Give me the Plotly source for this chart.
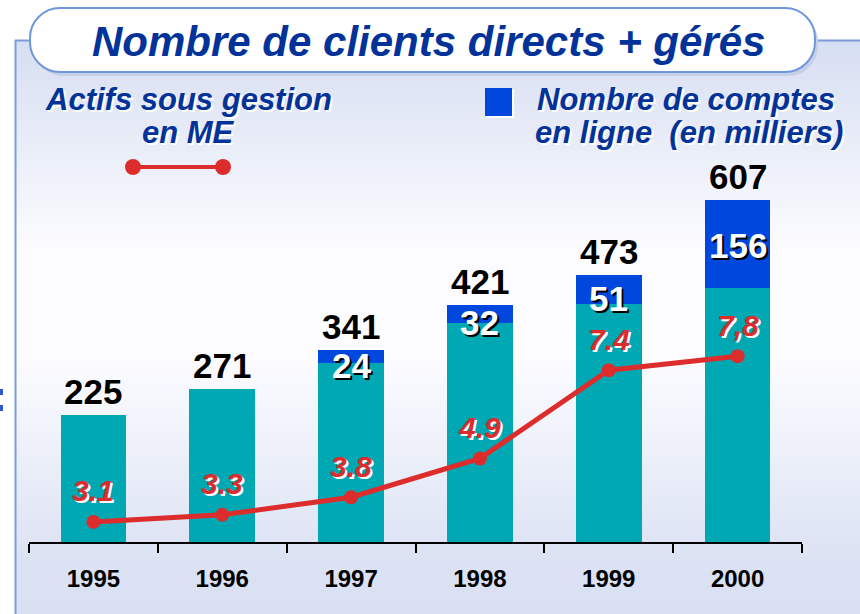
import plotly.graph_objects as go

# ---------------- data ----------------
years = ["1995", "1996", "1997", "1998", "1999", "2000"]
totals = [225, 271, 341, 421, 473, 607]            # nombre de clients (total)
online = [0, 0, 24, 32, 51, 156]                   # comptes en ligne (milliers)
base = [t - o for t, o in zip(totals, online)]     # clients hors ligne
assets = [3.1, 3.3, 3.8, 4.9, 7.4, 7.8]            # actifs sous gestion (ME)
asset_labels = ["3.1", "3.3", "3.8", "4.9", "7.4", "7,8"]

# ---------------- geometry helpers ----------------
W, H = 860, 614
L, R, T, B = 29, 802, 170, 542


def px(x):
    return (x - L) / (R - L)


def py(y):
    return (B - y) / (B - T)


TEAL = "#00A8B4"
BLUE = "#0047DE"
RED = "#DC2C2C"
NAVY = "#033399"
FONT = "Liberation Sans, Arial, sans-serif"

fig = go.Figure()

fig.add_trace(go.Bar(x=years, y=base, marker=dict(color=TEAL, line=dict(width=0)),
                     hoverinfo="skip", showlegend=False))
fig.add_trace(go.Bar(x=years, y=online, marker=dict(color=BLUE, line=dict(width=0)),
                     hoverinfo="skip", showlegend=False))
fig.add_trace(go.Scatter(x=years, y=assets, yaxis="y2", mode="lines+markers",
                         line=dict(color=RED, width=5),
                         marker=dict(color=RED, size=14),
                         hoverinfo="skip", showlegend=False))

shapes = []

# background gradient (panel)
stops = [(40, (214, 222, 241)), (250, (252, 252, 255)), (360, (252, 252, 255)),
         (560, (219, 226, 243)), (620, (217, 224, 242))]


def col_at(y):
    for (y0, c0), (y1, c1) in zip(stops[:-1], stops[1:]):
        if y0 <= y <= y1:
            t = (y - y0) / (y1 - y0)
            return "rgb(%d,%d,%d)" % tuple(round(a + (b - a) * t) for a, b in zip(c0, c1))
    return "rgb(%d,%d,%d)" % stops[-1][1]


step = 5
y = 40
while y < 620:
    shapes.append(dict(type="rect", xref="paper", yref="paper", layer="below",
                       x0=px(15), x1=px(W + 5), y0=py(y), y1=py(y + step + 1),
                       fillcolor=col_at(y + step / 2), line=dict(width=0)))
    y += step

# panel border
shapes.append(dict(type="path", xref="paper", yref="paper", layer="below",
                   path="M %f,%f L %f,%f L %f,%f" % (px(15.5), py(620), px(15.5), py(40.5), px(W + 5), py(40.5)),
                   line=dict(color="#7B9BDC", width=2)))


def pill(x0, y0, x1, y1, r):
    k = 0.5523 * r
    pts = [
        ("M", [(x0 + r, y0)]),
        ("L", [(x1 - r, y0)]),
        ("C", [(x1 - r + k, y0), (x1, y0 + r - k), (x1, y0 + r)]),
        ("L", [(x1, y1 - r)]),
        ("C", [(x1, y1 - r + k), (x1 - r + k, y1), (x1 - r, y1)]),
        ("L", [(x0 + r, y1)]),
        ("C", [(x0 + r - k, y1), (x0, y1 - r + k), (x0, y1 - r)]),
        ("L", [(x0, y0 + r)]),
        ("C", [(x0, y0 + r - k), (x0 + r - k, y0), (x0 + r, y0)]),
    ]
    s = ""
    for cmd, ps in pts:
        s += cmd + " " + " ".join("%f,%f" % (px(a), py(b)) for a, b in ps) + " "
    return s + "Z"


# title box shadow and box
shapes.append(dict(type="path", xref="paper", yref="paper", layer="below",
                   path=pill(34, 12, 818, 76, 30), fillcolor="#C5CFEA", line=dict(width=0)))
shapes.append(dict(type="path", xref="paper", yref="paper", layer="below",
                   path=pill(30, 8, 815, 72, 30), fillcolor="white",
                   line=dict(color="#7096DC", width=2)))

# legend: red line sample
shapes.append(dict(type="line", xref="paper", yref="paper", x0=px(133), x1=px(223),
                   y0=py(167), y1=py(167), line=dict(color=RED, width=4)))
for cx in (133, 223):
    shapes.append(dict(type="circle", xref="paper", yref="paper",
                       x0=px(cx - 8), x1=px(cx + 8), y0=py(175), y1=py(159),
                       fillcolor=RED, line=dict(width=0)))
# legend: blue square
shapes.append(dict(type="rect", xref="paper", yref="paper", x0=px(487), x1=px(514),
                   y0=py(118), y1=py(90), fillcolor="white", line=dict(width=0)))
shapes.append(dict(type="rect", xref="paper", yref="paper", x0=px(485), x1=px(512),
                   y0=py(116), y1=py(88), fillcolor=BLUE, line=dict(width=0)))
# small marks at left edge
for y0 in (389, 405):
    shapes.append(dict(type="rect", xref="paper", yref="paper", x0=px(0), x1=px(3),
                       y0=py(y0 + 6), y1=py(y0), fillcolor="#2F5BD0", line=dict(width=0)))

ann = []
ann.append(dict(xref="paper", yref="paper", x=px(428), y=py(41), text="Nombre de clients directs + gérés",
                showarrow=False, xanchor="center", yanchor="middle",
                font=dict(family=FONT, size=42, color=NAVY, weight="bold", style="italic")))
leg_font = dict(family=FONT, size=31, color=NAVY, weight="bold", style="italic",
                shadow="2px 2px 0px white")
for txt, xx, yy, xa in [("Actifs sous gestion", 188, 100, "center"), ("en ME", 188, 132, "center"),
                        ("Nombre de comptes", 536, 100, "left"), ("en ligne  (en milliers)", 534, 132, "left")]:
    ann.append(dict(xref="paper", yref="paper", x=px(xx), y=py(yy), text=txt, borderpad=0,
                    showarrow=False, xanchor=xa, yanchor="middle", font=leg_font))

for i, tot in enumerate(totals):
    ann.append(dict(x=i, y=tot, xref="x", yref="y", text=str(tot), showarrow=False,
                    xanchor="center", yanchor="bottom", yshift=3, borderpad=0,
                    font=dict(family=FONT, size=35, color="black", weight="bold",
                              shadow="1px 1px 0px white")))
for i, (b, o) in enumerate(zip(base, online)):
    if o > 0:
        ann.append(dict(x=i, y=b + o / 2, xref="x", yref="y", text=str(o), showarrow=False,
                        xanchor="center", yanchor="middle", yshift=-9 if o < 100 else -2,
                        borderpad=0,
                        font=dict(family=FONT, size=35, color="white", weight="bold",
                                  shadow="2px 2px 0px black")))
for i, (a, lab) in enumerate(zip(assets, asset_labels)):
    ann.append(dict(x=i, y=a, xref="x", yref="y2", text=lab, showarrow=False, xanchor="center",
                    yanchor="middle", yshift=31, borderpad=0,
                    font=dict(family=FONT, size=30, color=RED, weight="bold", style="italic",
                              shadow="2px 2px 0px white")))

fig.update_layout(
    width=W, height=H,
    margin=dict(l=L, r=W - R, t=T, b=H - B, pad=0),
    paper_bgcolor="white", plot_bgcolor="rgba(0,0,0,0)",
    barmode="stack", bargap=0.49,
    showlegend=False,
    shapes=shapes, annotations=ann,
    xaxis=dict(type="category", tickson="boundaries", ticks="outside", ticklen=9,
               tickwidth=2, tickcolor="black", showline=True, linecolor="black", linewidth=2,
               showgrid=False, zeroline=False, range=[-0.5, 5.5],
               tickfont=dict(family=FONT, size=24, color="black", weight="bold"),
               ticklabelstandoff=14),
    yaxis=dict(range=[0, 660], visible=False, showgrid=False, zeroline=False),
    yaxis2=dict(range=[2.53, 13.08], overlaying="y", visible=False, showgrid=False, zeroline=False),
)

fig.write_html("out.html", config={"displayModeBar": False},
               post_script="document.body.style.margin='0';document.body.style.overflow='hidden';")
